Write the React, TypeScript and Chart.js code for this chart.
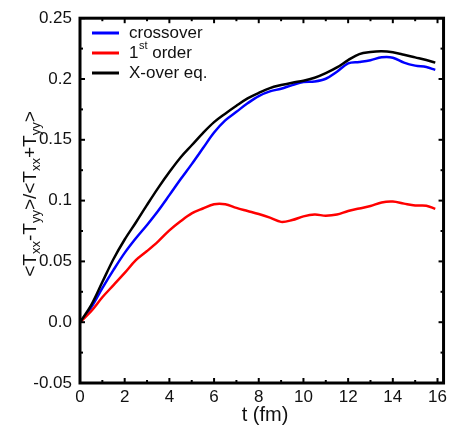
import React, { useEffect, useRef } from "react";
import { Chart, registerables } from "chart.js";

Chart.register(...registerables);

const tValues = [0, 0.5, 1, 1.5, 2, 2.5, 3, 3.5, 4, 4.5, 5, 5.5, 6, 6.5, 7, 7.5, 8, 8.5, 9, 9.5, 10, 10.5, 11, 11.5, 12, 12.5, 13, 13.5, 14, 14.5, 15, 15.5, 15.9];

const crossover = [0, 0.012, 0.028, 0.043, 0.057, 0.069, 0.08, 0.0917, 0.1045, 0.1175, 0.13, 0.143, 0.156, 0.166, 0.173, 0.18, 0.186, 0.1898, 0.192, 0.195, 0.1975, 0.198, 0.2002, 0.206, 0.2128, 0.214, 0.2155, 0.2178, 0.2175, 0.2135, 0.211, 0.2098, 0.2075];

const firstOrder = [0, 0.009, 0.0205, 0.0305, 0.0405, 0.051, 0.0585, 0.0665, 0.0755, 0.083, 0.0895, 0.0935, 0.097, 0.097, 0.094, 0.0915, 0.089, 0.086, 0.0825, 0.084, 0.087, 0.0885, 0.0876, 0.0885, 0.0915, 0.0935, 0.0955, 0.0985, 0.0992, 0.0975, 0.096, 0.0958, 0.0932];

const xoverEq = [0, 0.014, 0.033, 0.052, 0.068, 0.082, 0.0965, 0.1105, 0.1235, 0.1355, 0.1455, 0.1555, 0.1645, 0.1715, 0.178, 0.184, 0.1885, 0.1925, 0.195, 0.197, 0.1985, 0.201, 0.2048, 0.2095, 0.2155, 0.2205, 0.2222, 0.2228, 0.222, 0.22, 0.2178, 0.2156, 0.2135];

const xTickValues = [0, 2, 4, 6, 8, 10, 12, 14, 16];
const xTickLabels = ["0", "2", "4", "6", "8", "10", "12", "14", "16"];
const xMinorValues = [1, 3, 5, 7, 9, 11, 13, 15];
const yTickValues = [-0.05, 0, 0.05, 0.1, 0.15, 0.2, 0.25];
const yTickLabels = ["-0.05", "0.0", "0.05", "0.1", "0.15", "0.2", "0.25"];
const yMinorValues = [-0.025, 0.025, 0.075, 0.125, 0.175, 0.225];

const seriesNames = ["crossover", "1st order", "X-over eq."];
const seriesColors = ["#0000ff", "#ff0000", "#000000"];

const FONT = "'Liberation Sans', Arial, sans-serif";

const framePlugin = {
  id: "frame",
  afterDraw(chart: any) {
    const { ctx, chartArea } = chart;
    const xs = chart.scales.x;
    const ys = chart.scales.y;
    const { left, right, top, bottom } = chartArea;
    ctx.save();
    ctx.strokeStyle = "#000";
    ctx.lineWidth = 2;
    const tick = (x1: number, y1: number, x2: number, y2: number) => {
      ctx.beginPath();
      ctx.moveTo(x1, y1);
      ctx.lineTo(x2, y2);
      ctx.stroke();
    };
    xTickValues.forEach((v) => {
      const x = xs.getPixelForValue(v);
      tick(x, bottom, x, bottom - 5);
      tick(x, top, x, top + 5);
    });
    xMinorValues.forEach((v) => {
      const x = xs.getPixelForValue(v);
      tick(x, bottom, x, bottom - 3);
      tick(x, top, x, top + 3);
    });
    yTickValues.forEach((v) => {
      const y = ys.getPixelForValue(v);
      tick(left, y, left + 5, y);
      tick(right, y, right - 5, y);
    });
    yMinorValues.forEach((v) => {
      const y = ys.getPixelForValue(v);
      tick(left, y, left + 3, y);
      tick(right, y, right - 3, y);
    });
    ctx.lineWidth = 3;
    ctx.strokeRect(left, top, right - left, bottom - top);

    // legend
    const legendY = [33, 53, 73];
    seriesNames.forEach((name, i) => {
      ctx.strokeStyle = seriesColors[i];
      ctx.lineWidth = 3;
      tick(92, legendY[i], 119, legendY[i]);
      ctx.fillStyle = "#111";
      ctx.textBaseline = "middle";
      ctx.textAlign = "left";
      ctx.font = `17px ${FONT}`;
      if (name.startsWith("1st")) {
        ctx.fillText("1", 129, legendY[i]);
        const w1 = ctx.measureText("1").width;
        ctx.font = `11px ${FONT}`;
        ctx.fillText("st", 129 + w1 + 0.5, legendY[i] - 7);
        const w2 = ctx.measureText("st").width;
        ctx.font = `17px ${FONT}`;
        ctx.fillText(" order", 129 + w1 + 0.5 + w2, legendY[i]);
      } else {
        ctx.fillText(name, 129, legendY[i]);
      }
    });

    // x title
    ctx.fillStyle = "#111";
    ctx.font = `20px ${FONT}`;
    ctx.textAlign = "center";
    ctx.textBaseline = "middle";
    ctx.fillText("t (fm)", 265, 415);

    // y title with subscripts
    const segs: [string, boolean][] = [
      ["<T", false], ["xx", true], ["-T", false], ["yy", true], [">/<T", false], ["xx", true], ["+T", false], ["yy", true], [">", false],
    ];
    const mainF = `19px ${FONT}`;
    const subF = `13px ${FONT}`;
    let total = 0;
    const widths = segs.map(([s, sub]) => {
      ctx.font = sub ? subF : mainF;
      const w = ctx.measureText(s).width;
      total += w;
      return w;
    });
    ctx.translate(29, 194);
    ctx.rotate(-Math.PI / 2);
    ctx.textAlign = "left";
    ctx.textBaseline = "alphabetic";
    let cx = -total / 2;
    segs.forEach(([s, sub], i) => {
      ctx.font = sub ? subF : mainF;
      ctx.fillText(s, cx, sub ? 11 : 7);
      cx += widths[i];
    });
    ctx.restore();
  },
};

export default function App() {
  const ref = useRef<HTMLCanvasElement | null>(null);
  useEffect(() => {
    document.body.style.margin = "0";
    if (!ref.current) return;
    const mk = (vals: number[]) => tValues.map((t, i) => ({ x: t, y: vals[i] }));
    const seriesData = [crossover, firstOrder, xoverEq];
    const chart = new Chart(ref.current, {
      type: "line",
      data: {
        datasets: seriesData.map((vals, i) => ({
          label: seriesNames[i],
          data: mk(vals),
          borderColor: seriesColors[i],
          backgroundColor: seriesColors[i],
          borderWidth: 2.5,
          pointRadius: 0,
          tension: 0.35,
          fill: false,
          order: 2 - i,
        })),
      },
      options: {
        animation: false,
        responsive: false,
        maintainAspectRatio: false,
        layout: { padding: { left: 0, top: 14, right: 2, bottom: 0 } },
        plugins: { legend: { display: false }, tooltip: { enabled: false } },
        scales: {
          x: {
            type: "linear",
            min: 0,
            max: 16.27,
            afterBuildTicks: (s: any) => {
              s.ticks = xTickValues.map((v) => ({ value: v }));
            },
            afterFit: (s: any) => {
              s.height = 46;
            },
            grid: { display: false, drawTicks: false },
            border: { display: false },
            ticks: {
              autoSkip: false,
              maxRotation: 0,
              padding: 4,
              color: "#111",
              font: { family: FONT, size: 17 },
              callback: (_v: any, i: number) => xTickLabels[i],
            },
          },
          y: {
            type: "linear",
            min: -0.05,
            max: 0.25,
            afterBuildTicks: (s: any) => {
              s.ticks = yTickValues.map((v) => ({ value: v }));
            },
            afterFit: (s: any) => {
              s.width = 80;
            },
            grid: { display: false, drawTicks: false },
            border: { display: false },
            ticks: {
              autoSkip: false,
              padding: 8,
              color: "#111",
              font: { family: FONT, size: 17 },
              callback: (_v: any, i: number) => yTickLabels[i],
            },
          },
        },
      },
      plugins: [framePlugin],
    });
    return () => chart.destroy();
  }, []);
  return (
    <div style={{ position: "absolute", left: 0, top: 0, width: 451, height: 429 }}>
      <canvas ref={ref} width={451} height={429} style={{ width: 451, height: 429 }} />
    </div>
  );
}
